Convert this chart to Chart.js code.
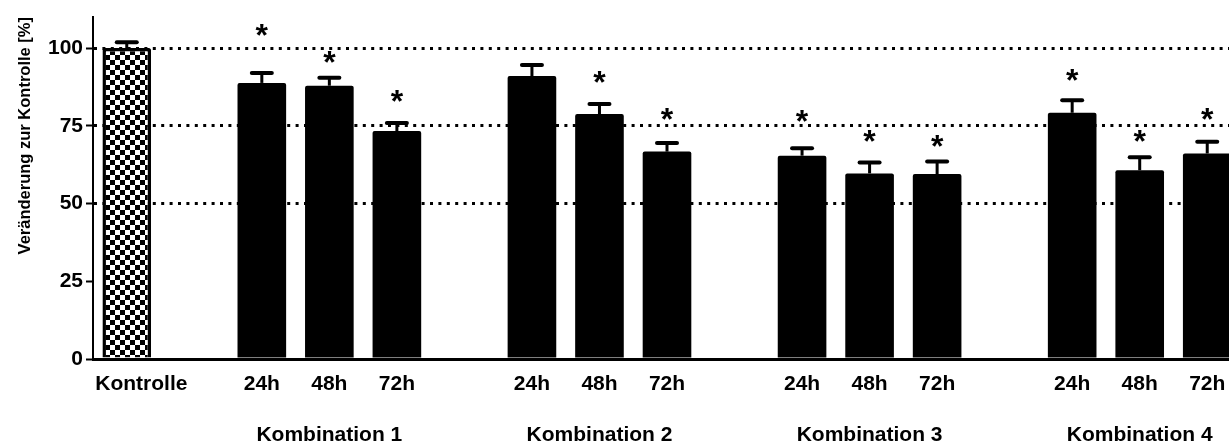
<!DOCTYPE html>
<html>
<head>
<meta charset="utf-8">
<script src="https://cdn.jsdelivr.net/npm/chart.js@4.4.1/dist/chart.umd.min.js"></script>
<style>
  html, body { margin: 0; padding: 0; background: #fff; overflow: hidden; }
  #wrap { width: 1241px; height: 444px; }
</style>
</head>
<body>
<div id="wrap"><canvas id="barChart" width="1241" height="444"></canvas></div>
<script>
// x categories (empty strings are the gaps between groups)
const categories = ['Kontrolle', '', '24h', '48h', '72h', '', '24h', '48h', '72h', '', '24h', '48h', '72h', '', '24h', '48h', '72h'];
const means  = [100, null, 88.8, 87.9, 73.3, null, 91.0, 78.8, 66.7, null, 65.4, 59.7, 59.5, null, 79.2, 60.7, 66.1];
const errors = [1.9, null, 3.2, 2.6, 2.6, null, 3.6, 3.2, 2.8, null, 2.4, 3.5, 4.0, null, 4.0, 4.2, 3.8];
// where the significance stars sit (in % units)
const stars  = [null, null, 105.0, 96.1, 83.5, null, null, 89.6, 77.7, null, 77.1, 70.6, 69.0, null, 90.5, 70.6, 77.9];
const groupLabels = ['Kombination 1', 'Kombination 2', 'Kombination 3', 'Kombination 4'];
const groupCenters = [3, 7, 11, 15];
const yTicks = [0, 25, 50, 75, 100];
const dottedAt = [50, 75, 100];

const FONT = '"Liberation Sans", Arial, Helvetica, sans-serif';
Chart.defaults.font.family = FONT;
Chart.defaults.color = '#000';

// checkerboard fill for the control bar
function checkerPattern() {
  const c = document.createElement('canvas');
  c.width = 10;
  c.height = 10;
  const g = c.getContext('2d');
  g.fillStyle = '#fff';
  g.fillRect(0, 0, 10, 10);
  g.fillStyle = '#000';
  g.fillRect(0, 0, 5, 5);
  g.fillRect(5, 5, 5, 5);
  return g.createPattern(c, 'repeat');
}

const extras = {
  id: 'extras',
  afterDatasetsDraw(chart) {
    const ctx = chart.ctx;
    const y = chart.scales.y;
    const x = chart.scales.x;
    const bars = chart.getDatasetMeta(0).data;
    ctx.save();
    ctx.fillStyle = '#000';

    // upward error bars
    bars.forEach((bar, i) => {
      if (means[i] == null) return;
      const cap = y.getPixelForValue(means[i] + errors[i]);
      ctx.fillRect(bar.x - 1.5, cap, 3, bar.y - cap);
      ctx.beginPath();
      ctx.roundRect(bar.x - 12, cap - 2, 24, 4, 2);
      ctx.fill();
    });

    // significance stars
    ctx.font = 'bold 32px ' + FONT;
    ctx.textAlign = 'center';
    ctx.textBaseline = 'alphabetic';
    bars.forEach((bar, i) => {
      if (stars[i] == null) return;
      ctx.fillText('*', bar.x, y.getPixelForValue(stars[i]) + 13);
    });

    // group labels under the hour labels
    ctx.font = 'bold 21px ' + FONT;
    groupLabels.forEach((label, g) => {
      ctx.fillText(label, x.getPixelForValue(groupCenters[g]), 441);
    });
    ctx.restore();
  }
};

const pattern = checkerPattern();

new Chart(document.getElementById('barChart'), {
  type: 'bar',
  data: {
    labels: categories,
    datasets: [{
      data: means,
      backgroundColor: means.map((v, i) => i === 0 ? pattern : '#000'),
      borderColor: '#000',
      borderWidth: means.map((v, i) => i === 0 ? 3.5 : 0),
      borderRadius: 2,
      barPercentage: 0.72,
      categoryPercentage: 1
    }]
  },
  options: {
    responsive: false,
    animation: false,
    layout: { padding: { top: 17, left: 0, right: 0, bottom: 0 } },
    plugins: {
      legend: { display: false },
      tooltip: { enabled: false }
    },
    scales: {
      x: {
        type: 'category',
        grid: { display: false },
        border: { display: true, color: '#000', width: 3 },
        ticks: {
          font: { size: 21, weight: 'bold' },
          color: '#000',
          padding: 5,
          autoSkip: false,
          maxRotation: 0,
          // the control label sits a bit right of its bar in the original
          callback: (v, i) => i === 0 ? '     ' + categories[i] : categories[i]
        },
        afterFit(scale) { scale.height = 85; }
      },
      y: {
        min: 0,
        max: 110,
        afterBuildTicks(scale) { scale.ticks = yTicks.map(v => ({ value: v })); },
        ticks: {
          font: { size: 21, weight: 'bold' },
          color: '#000',
          padding: 3
        },
        grid: {
          color: c => (c.tick && dottedAt.includes(c.tick.value)) ? '#000' : 'rgba(0,0,0,0)',
          lineWidth: 3,
          tickColor: '#000',
          tickWidth: 2,
          tickLength: 7
        },
        border: { display: true, color: '#000', width: 2, dash: [3, 5.4] },
        title: {
          display: true,
          text: 'Veränderung zur Kontrolle [%]',
          align: 'end',
          font: { size: 16.5, weight: 'bold' },
          color: '#000',
          padding: { top: 16, bottom: 0 }
        },
        afterFit(scale) { scale.width = 93; }
      }
    }
  },
  plugins: [extras]
});
</script>
</body>
</html>
